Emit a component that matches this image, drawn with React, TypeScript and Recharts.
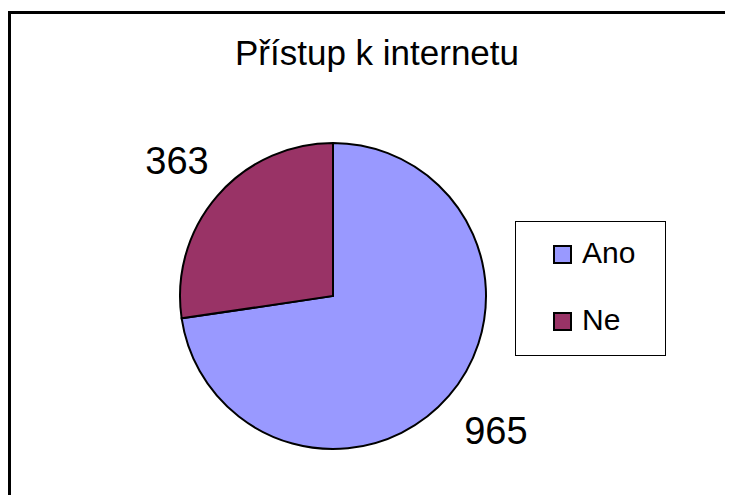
import React from 'react';
import { PieChart, Pie, Cell, Legend } from 'recharts';

const categories = ['Ano', 'Ne'];
const values = [965, 363];
const sliceColors = ['#9999FF', '#993366'];
const chartTitle = 'Přístup k internetu';

const data = categories.map((name, i) => ({ name, value: values[i], color: sliceColors[i] }));

const FONT = '"Liberation Sans", Arial, sans-serif';
const RADIAN = Math.PI / 180;

// value labels sit a bit outside the pie, no leader lines
// (right-hand labels get pushed out a little more, like Excel does)
const renderLabel = ({ cx, cy, midAngle, outerRadius, value }: any) => {
  const r = outerRadius + 53;
  const cos = Math.cos(-midAngle * RADIAN);
  const x = cx + r * cos + (cos > 0 ? 7 : 0);
  const y = cy + r * Math.sin(-midAngle * RADIAN);
  return (
    <text x={x} y={y} fill="#000" fontSize={38} fontFamily={FONT} textAnchor="middle" dominantBaseline="central">
      {value}
    </text>
  );
};

// boxed legend like the old Excel one
const LegendBox = ({ payload }: any) => {
  const items = payload || [];
  return (
    <svg width={151} height={135} style={{ display: 'block' }}>
      <rect x={0.5} y={0.5} width={150} height={134} fill="#fff" stroke="#000" strokeWidth={1} />
      {items.map((entry: any, i: number) => (
        <g key={`leg-${i}`}>
          <rect x={39} y={25 + i * 67} width={17} height={17} fill={entry.color} stroke="#000" strokeWidth={2} />
          <text x={67} y={42 + i * 67} fontSize={30} fontFamily={FONT} fill="#000">
            {entry.value}
          </text>
        </g>
      ))}
    </svg>
  );
};

const App: React.FC = () => {
  return (
    <div style={{ position: 'relative', width: 725, height: 487, background: '#fff', overflow: 'hidden' }}>
      <style>{'html { overflow: hidden; }'}</style>
      {/* frame: only top and left edges fall inside the picture */}
      <div
        style={{
          position: 'absolute',
          left: 0,
          top: 3,
          width: 800,
          height: 600,
          borderTop: '3px solid #000',
          borderLeft: '3px solid #000',
          boxSizing: 'border-box',
        }}
      />
      <svg width={725} height={487} style={{ position: 'absolute', left: 0, top: 0, pointerEvents: 'none' }}>
        <text x={369} y={57} textAnchor="middle" fontSize={35} fontFamily={FONT} fill="#000">
          {chartTitle}
        </text>
      </svg>
      <div style={{ position: 'absolute', left: 0, top: 0 }}>
        <PieChart width={700} height={470} margin={{ top: 0, right: 0, bottom: 0, left: 0 }}>
          <Pie
            data={data}
            dataKey="value"
            nameKey="name"
            cx={325}
            cy={288}
            outerRadius={153}
            startAngle={90}
            endAngle={-270}
            stroke="#000"
            strokeWidth={2}
            labelLine={false}
            label={renderLabel}
            isAnimationActive={false}
          >
            {data.map((entry, index) => (
              <Cell key={`cell-${index}`} fill={entry.color} />
            ))}
          </Pie>
          <Legend
            content={<LegendBox />}
            wrapperStyle={{ left: 507, top: 213, width: 151, height: 135 }}
          />
        </PieChart>
      </div>
    </div>
  );
};

export default App;
